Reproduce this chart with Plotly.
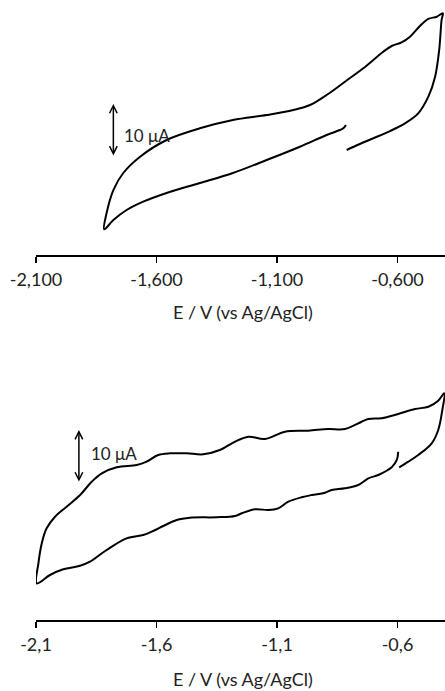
import plotly.graph_objects as go

# ---- Top voltammogram (E in V, I in uA, arbitrary current offset) ----
top_E = [-0.811, -0.756, -0.700, -0.631, -0.569, -0.514, -0.472, -0.444, -0.427, -0.417, -0.412,
         -0.437, -0.472, -0.507, -0.548, -0.583, -0.624, -0.659, -0.742, -0.814, -0.888, -0.963,
         -1.032, -1.143, -1.283, -1.420, -1.558, -1.668, -1.738, -1.779, -1.807, -1.817,
         -1.779, -1.724, -1.655, -1.558, -1.420, -1.283, -1.143, -1.005, -0.894, -0.839, -0.825, -0.814]
top_I = [0.00, 1.13, 2.21, 3.58, 5.04, 6.92, 10.06, 13.83, 18.87, 24.53, 25.79,
         25.15, 24.72, 23.40, 21.38, 20.32, 19.62, 18.55, 15.42, 13.02, 10.57, 8.49,
         7.55, 6.60, 5.66, 4.09, 1.89, -1.26, -4.34, -7.55, -11.89, -14.96,
         -13.21, -11.32, -9.75, -8.11, -6.23, -4.34, -1.89, 0.62, 2.83, 3.77, 4.09, 4.72]

# ---- Bottom voltammogram ----
bot_E = [-0.593, -0.555, -0.514, -0.458, -0.431, -0.414, -0.406,
         -0.431, -0.472, -0.527, -0.597, -0.666, -0.721, -0.749, -0.818, -0.887, -0.970, -1.067,
         -1.150, -1.219, -1.274, -1.337, -1.406, -1.475, -1.544, -1.593, -1.641, -1.682, -1.765,
         -1.827, -1.869, -1.917, -1.973, -2.021, -2.056, -2.076, -2.090, -2.097,
         -2.042, -1.987, -1.917, -1.876, -1.807, -1.724, -1.655, -1.620, -1.572, -1.516, -1.461,
         -1.350, -1.274, -1.246, -1.191, -1.136, -1.095, -1.053, -0.998, -0.956, -0.901, -0.873,
         -0.818, -0.763, -0.721, -0.680, -0.624, -0.603, -0.597]
bot_I = [6.17, 7.23, 8.49, 10.70, 13.21, 16.98, 20.13,
         18.74, 17.60, 17.17, 16.23, 15.42, 15.28, 14.77, 13.40, 13.40, 13.08, 12.89,
         11.51, 11.94, 11.00, 9.43, 8.62, 8.81, 8.81, 8.49, 7.23, 6.60, 6.17,
         5.04, 3.45, 0.94, -1.26, -3.15, -5.34, -8.17, -11.94, -15.72,
         -14.15, -13.08, -12.40, -11.64, -9.43, -7.23, -6.60, -5.98, -4.91, -3.77, -3.34,
         -3.26, -3.02, -2.51, -1.75, -1.89, -1.57, -0.32, 0.51, 0.94, 1.38, 1.89,
         2.21, 2.83, 4.09, 4.72, 6.17, 7.55, 9.11]

tick_vals = [-2.1, -1.6, -1.1, -0.6]
top_tick_text = ["-2,100", "-1,600", "-1,100", "-0,600"]
bot_tick_text = ["-2,1", "-1,6", "-1,1", "-0,6"]
x_title = "E / V (vs Ag/AgCl)"
scale_label = "10 μA"
scale_uA = 10

FONT = "Lato"
W, H = 445, 691

fig = go.Figure()
fig.add_trace(go.Scatter(x=top_E, y=top_I, mode="lines", line=dict(color="black", width=2),
                         xaxis="x", yaxis="y", showlegend=False, line_shape="spline",
                         hoverinfo="skip"))
fig.add_trace(go.Scatter(x=bot_E, y=bot_I, mode="lines", line=dict(color="black", width=2),
                         xaxis="x2", yaxis="y2", showlegend=False, line_shape="spline",
                         hoverinfo="skip"))

xdom = [36 / W, 1.0]
xrange = [-2.1, -2.1 + 409 / 241]
common_x = dict(domain=xdom, range=xrange, showline=True, linecolor="black", linewidth=1.5,
                ticks="outside", ticklen=6, tickwidth=1.5, tickcolor="black",
                tickvals=tick_vals, showgrid=False, zeroline=False, automargin=False,
                ticklabelstandoff=2, fixedrange=True,
                tickfont=dict(family=FONT, size=18, color="#222"))

fig.update_layout(
    width=W, height=H, margin=dict(l=0, r=0, t=0, b=0, autoexpand=False),
    paper_bgcolor="white", plot_bgcolor="white", hovermode=False,
    xaxis=dict(**common_x, ticktext=top_tick_text, anchor="y"),
    yaxis=dict(domain=[1 - 255 / H, 1.0], range=[-105 / 5.3, 150 / 5.3], visible=False,
               automargin=False, fixedrange=True),
    xaxis2=dict(**common_x, ticktext=bot_tick_text, anchor="y2"),
    yaxis2=dict(domain=[1 - 620 / H, 1 - 370 / H], range=[-120 / 5.3, 130 / 5.3], visible=False,
                automargin=False, fixedrange=True),
)

ann = []
# axis titles
for ypix in (312, 679):
    ann.append(dict(xref="paper", yref="paper", x=(36 + 445) / 2 / W + 0.005, y=1 - ypix / H,
                    text=x_title, showarrow=False, xanchor="center", yanchor="middle",
                    font=dict(family=FONT, size=18, color="#222")))
# scale bars
bars = [("x", "y", -1.779, -1.30, -1.744, 2.83),
        ("x2", "y2", -1.922, 3.20, -1.880, 8.81)]
for xr, yr, ex, y0, lx, ly in bars:
    ann.append(dict(xref=xr, yref=yr, axref=xr, ayref=yr, x=ex, y=y0 + scale_uA, ax=ex, ay=y0,
                    text="", showarrow=True, arrowhead=5, startarrowhead=5, arrowside="end+start",
                    arrowwidth=1.5, arrowsize=1, startarrowsize=1, arrowcolor="black"))
    ann.append(dict(xref=xr, yref=yr, x=lx, y=ly, text=scale_label, showarrow=False,
                    xanchor="left", yanchor="middle",
                    font=dict(family=FONT, size=17, color="#222")))
fig.update_layout(annotations=ann)

fig.write_html("out.html", config={"displayModeBar": False, "staticPlot": True},
               post_script="document.body.style.margin='0';document.body.style.overflow='hidden';")
